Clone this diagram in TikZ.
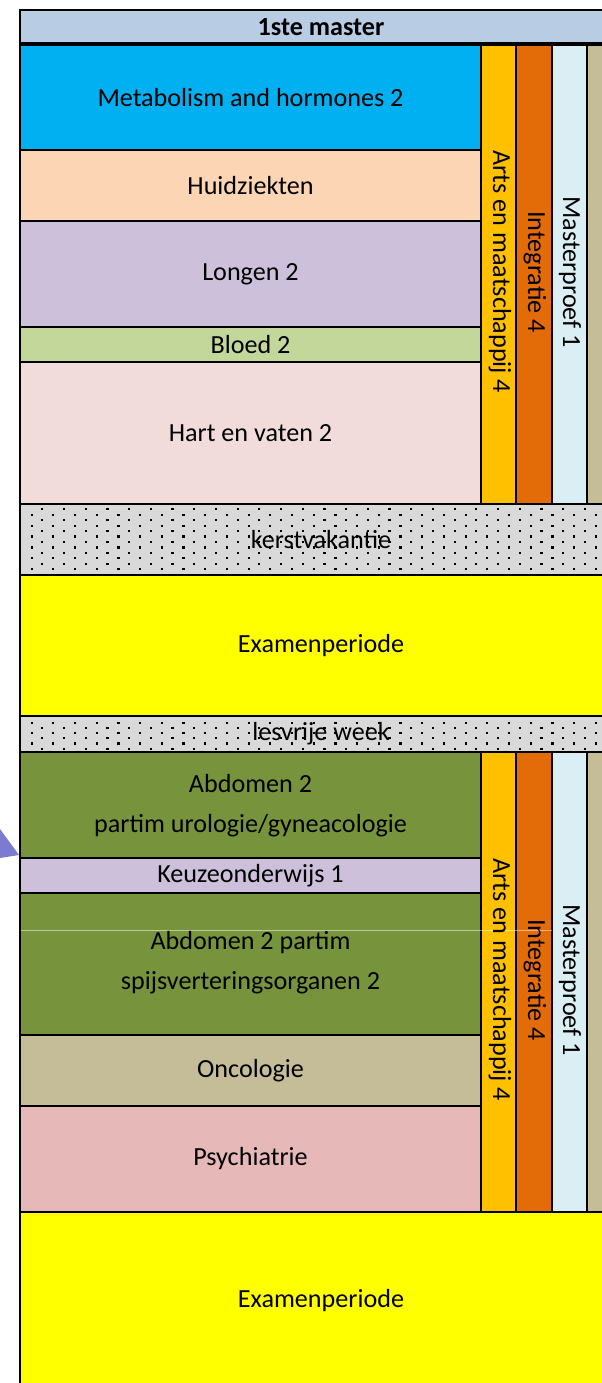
\documentclass[tikz,border=0pt]{standalone}
\usepackage{fontspec}
\setmainfont{Carlito}
\definecolor{hdrblue}{HTML}{B8CCE4}
\definecolor{metabblue}{HTML}{00B0F0}
\definecolor{huidpeach}{HTML}{FCD5B4}
\definecolor{lavender}{HTML}{CCC0DA}
\definecolor{bloedgreen}{HTML}{C4D79B}
\definecolor{hartpink}{HTML}{F2DCDB}
\definecolor{vakgray}{HTML}{D9D9D9}
\definecolor{examyellow}{HTML}{FFFF00}
\definecolor{abdgreen}{HTML}{77933C}
\definecolor{oncotan}{HTML}{C4BD97}
\definecolor{psychrose}{HTML}{E6B8B7}
\definecolor{artsorange}{HTML}{FFC000}
\definecolor{integrorange}{HTML}{E36C09}
\definecolor{mproefblue}{HTML}{DAEEF3}
\definecolor{arrowblue}{HTML}{7B7BD1}
\begin{document}
\begin{tikzpicture}[x=0.75pt,y=-0.75pt,
  vak/.style={draw=black,line width=1.6pt},
  lbl/.style={inner sep=0pt,font=\fontsize{19.6}{30}\selectfont,align=center},
  vlbl/.style={lbl,rotate=-90}]
\useasboundingbox (0,0) rectangle (602,1383);
\clip (0,0) rectangle (602,1383);

% header
\draw[vak,fill=hdrblue,line width=1pt] (20,10) rectangle (622,44);

% first semester
\draw[vak,fill=metabblue] (20,45) rectangle (481,150);
\draw[vak,fill=huidpeach] (20,150) rectangle (481,221);
\draw[vak,fill=lavender] (20,221) rectangle (481,327);
\draw[vak,fill=bloedgreen] (20,327) rectangle (481,362);
\draw[vak,fill=hartpink] (20,362) rectangle (481,504);
\draw[vak,fill=artsorange] (481,45) rectangle (516,504);
\draw[vak,fill=integrorange] (516,45) rectangle (552,504);
\draw[vak,fill=mproefblue] (552,45) rectangle (587,504);
\draw[vak,fill=oncotan] (587,45) rectangle (622,504);
\draw[line width=3pt] (20,44) -- (622,44);

% kerstvakantie
\fill[vakgray] (20,504) rectangle (622,575);
\begin{scope}
\clip (21,505) rectangle (622,574);
\foreach \r in {0,...,11}{
  \pgfmathsetmacro\yy{509.3+5.45*\r}
  \pgfmathsetmacro\xo{mod(\r,2)==0 ? 42.3 : 31.6}
  \foreach \c in {0,...,27}
    \fill (\xo+21.7*\c-1.1,\yy-1.1) rectangle ++(2.2,2.2);
}
\end{scope}
\draw[vak] (20,504) rectangle (622,575);

% examenperiode
\draw[vak,fill=examyellow] (20,575) rectangle (622,716);

% lesvrije week
\fill[vakgray] (20,716) rectangle (622,752);
\begin{scope}
\clip (21,717) rectangle (622,751);
\foreach \r in {0,...,5}{
  \pgfmathsetmacro\yy{722.7+5.2*\r}
  \pgfmathsetmacro\xo{mod(\r,2)==0 ? 31.6 : 42.3}
  \foreach \c in {0,...,27}
    \fill (\xo+21.7*\c-1.1,\yy-1.1) rectangle ++(2.2,2.2);
}
\end{scope}
\draw[vak] (20,716) rectangle (622,752);

% second semester
\draw[vak,fill=abdgreen] (20,752) rectangle (481,858);
\draw[vak,fill=lavender] (20,858) rectangle (481,893);
\draw[vak,fill=abdgreen] (20,893) rectangle (481,1035);
\draw[vak,fill=oncotan] (20,1035) rectangle (481,1106);
\draw[vak,fill=psychrose] (20,1106) rectangle (481,1212);
\draw[vak,fill=artsorange] (481,752) rectangle (516,1212);
\draw[vak,fill=integrorange] (516,752) rectangle (552,1212);
\draw[vak,fill=mproefblue] (552,752) rectangle (587,1212);
\draw[vak,fill=oncotan] (587,752) rectangle (622,1212);
\draw[white,opacity=0.5,line width=0.6pt] (21,930) -- (552,930);

% examenperiode
\draw[vak,fill=examyellow] (20,1212) rectangle (622,1400);

% arrow
\fill[arrowblue] (0,829) -- (19,855) -- (0,858) -- cycle;

% labels
\node[lbl,font=\fontsize{19.6}{24}\selectfont\bfseries] (hdr) at (321,27) {1ste master};
\node[lbl] (metab) at (250.5,97.5) {Metabolism and hormones 2};
\node[lbl] (huid) at (250.5,185.5) {Huidziekten};
\node[lbl] (longen) at (250.5,274) {Longen 2};
\node[lbl] (bloed) at (250.5,344.5) {Bloed 2};
\node[lbl] (hart) at (250.5,433) {Hart en vaten 2};
\node[lbl] (kerst) at (321,539.5) {kerstvakantie};
\node[lbl] (exam1) at (321,645.5) {Examenperiode};
\node[lbl] (lesvrij) at (321,734) {lesvrije week};
\node[lbl] (abduro) at (250.5,806) {Abdomen 2\\partim urologie/gyneacologie};
\node[lbl] (keuze) at (250.5,875.5) {Keuzeonderwijs 1};
\node[lbl] (abdspijs) at (250.5,963) {Abdomen 2 partim\\spijsverteringsorganen 2};
\node[lbl] (onco) at (250.5,1070.5) {Oncologie};
\node[lbl] (psych) at (250.5,1159) {Psychiatrie};
\node[lbl] (exam2) at (321,1301) {Examenperiode};

\node[vlbl] (arts1) at (500,272) {Arts en maatschappij 4};
\node[vlbl] (integr1) at (535,272) {Integratie 4};
\node[vlbl] (mproef1) at (570,272) {Masterproef 1};
\node[vlbl] (arts2) at (500,980) {Arts en maatschappij 4};
\node[vlbl] (integr2) at (535,980) {Integratie 4};
\node[vlbl] (mproef2) at (570,980) {Masterproef 1};

\end{tikzpicture}
\end{document}
